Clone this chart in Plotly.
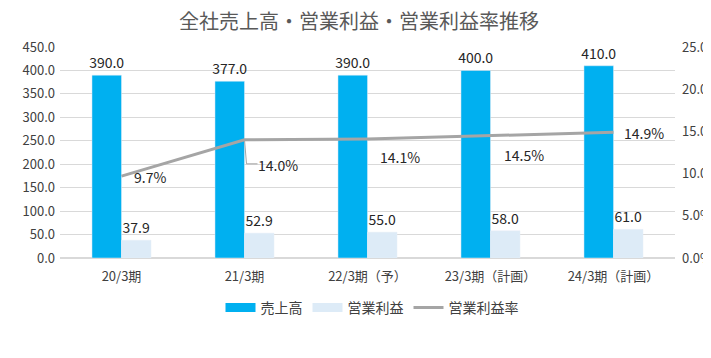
import plotly.graph_objects as go

categories = ["20/3期", "21/3期", "22/3期（予）", "23/3期（計画）", "24/3期（計画）"]
sales = [390.0, 377.0, 390.0, 400.0, 410.0]
op_profit = [37.9, 52.9, 55.0, 58.0, 61.0]
op_margin = [9.7, 14.0, 14.1, 14.5, 14.9]
margin_label_shift = [(28, -1), (33, -25), (32, -18), (33, -19), (30, -1)]

FONT = "Noto Sans CJK JP, Noto Sans, sans-serif"
TXT = "#404040"
BLUE = "#00B0F0"
LIGHT = "#DDEBF7"
GRAY = "#A5A5A5"

fig = go.Figure()
fig.add_trace(go.Bar(
    x=categories, y=sales, name="売上高", marker_color=BLUE, showlegend=False,
    text=[f"{v:.1f}" for v in sales], textposition="outside", constraintext="none",
    textfont=dict(size=14, color="#262626"), cliponaxis=False,
))
fig.add_trace(go.Bar(
    x=categories, y=op_profit, name="営業利益", marker_color=LIGHT, showlegend=False,
    text=[f"{v:.1f}" for v in op_profit], textposition="outside", constraintext="none",
    textfont=dict(size=14, color="#262626"), cliponaxis=False,
))
fig.add_trace(go.Scatter(
    x=categories, y=op_margin, name="営業利益率", yaxis="y2", showlegend=False,
    mode="lines", line=dict(color=GRAY, width=3),
))
# legend entries (wide rectangular swatches as in the reference)
for name, col, w in [("売上高", BLUE, 9), ("営業利益", LIGHT, 9), ("営業利益率", GRAY, 3)]:
    fig.add_trace(go.Scatter(x=[None], y=[None], name=name, mode="lines",
                             line=dict(color=col, width=w), showlegend=True))

for c, v, (dx, dy) in zip(categories, op_margin, margin_label_shift):
    fig.add_annotation(x=c, y=v, xref="x", yref="y2", text=f"{v:.1f}%",
                       showarrow=False, xshift=dx, yshift=dy,
                       font=dict(size=14, color="#262626", family=FONT))

# leader line for the 21/3 label
fig.add_shape(type="path", xref="x", yref="y2", xsizemode="pixel", ysizemode="pixel",
              xanchor=categories[1], yanchor=op_margin[1],
              path="M0,0 L2,-24 L13,-24", line=dict(color=GRAY, width=1), layer="above")

# page body adds an 8px offset; compensate in margins
fig.update_layout(
    width=711, height=358,
    margin=dict(l=52, r=44, t=39, b=108, autoexpand=False),
    paper_bgcolor="white", plot_bgcolor="white",
    font=dict(family=FONT, size=13, color=TXT),
    title=dict(text="全社売上高・営業利益・営業利益率推移", x=(359 - 8 - 52) / 615, xanchor="center",
               xref="paper", y=1 - 14 / 358, yref="container", yanchor="middle",
               font=dict(size=20, color="#595959"), automargin=False),
    barmode="group", bargap=0.52, bargroupgap=0,
    showlegend=True,
    legend=dict(orientation="h", x=(372 - 8 - 52) / 615, xanchor="center", y=-0.237, yanchor="middle",
                font=dict(size=14, color=TXT), traceorder="normal", itemwidth=30),
    xaxis=dict(showgrid=False, showline=False, ticks="", tickfont=dict(size=13),
               automargin=False, ticklabelstandoff=9),
    yaxis=dict(range=[0, 450], dtick=50, tickformat=".1f", showgrid=True,
               gridcolor="#D9D9D9", zeroline=True, zerolinecolor="#D9D9D9",
               ticks="", tickfont=dict(size=13), automargin=False, ticklabelstandoff=4),
    yaxis2=dict(range=[0, 25], dtick=5, overlaying="y", side="right",
                ticksuffix="%", tickformat=".1f", showgrid=False, zeroline=False,
                ticks="", tickfont=dict(size=13), automargin=False, ticklabelstandoff=6),
)

fig.write_html("out.html")
